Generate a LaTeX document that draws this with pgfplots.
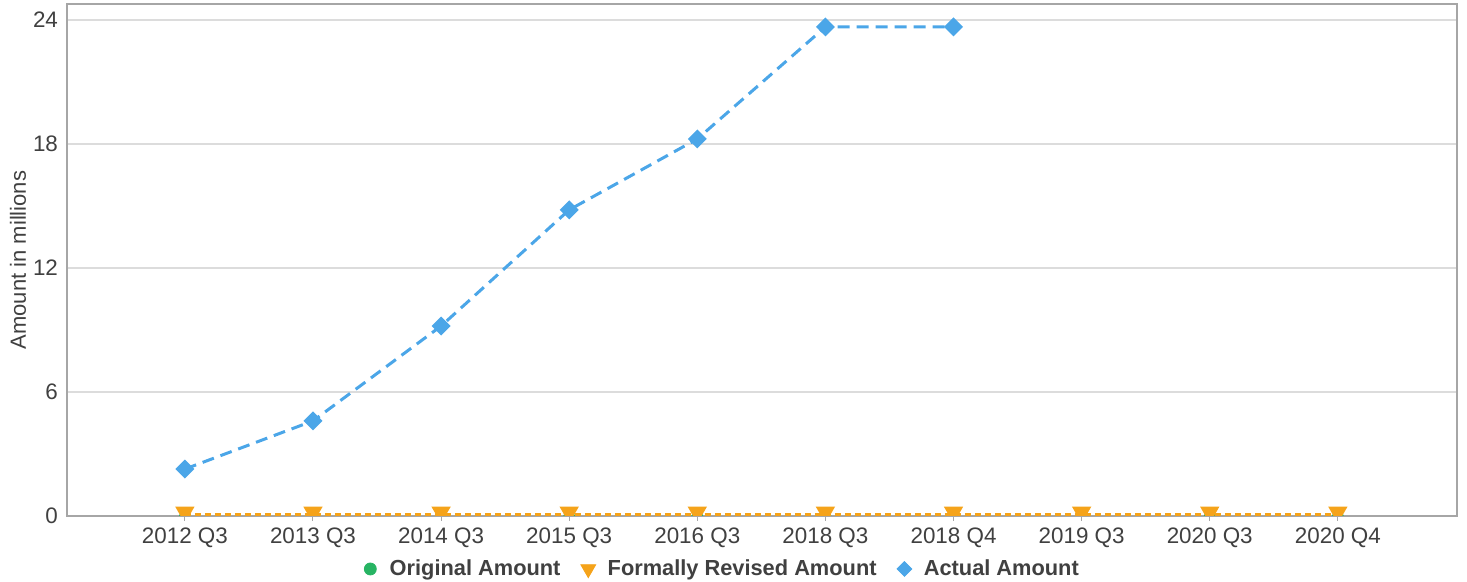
\documentclass[border=0pt]{standalone}
\usepackage{pgfplots}
\pgfplotsset{compat=1.18}
\usepackage{fontspec}
\setmainfont{Liberation Sans}
\definecolor{cblue}{HTML}{4BA6E8}
\definecolor{corange}{HTML}{F5A31A}
\definecolor{cgreen}{HTML}{27B463}
\definecolor{ctext}{HTML}{404040}
\definecolor{cgrid}{HTML}{DCDCDC}
\definecolor{caxis}{HTML}{A6A6A6}
\begin{document}
\begin{tikzpicture}[x=1pt,y=1pt]
\useasboundingbox (0,0) rectangle (733.5,291);
\begin{axis}[
  at={(33.5pt,33pt)}, anchor=south west,
  scale only axis, width=695pt, height=256pt,
  xmin=-0.92, xmax=9.93, ymin=0, ymax=24.77,
  ytick={0,6,12,18,24},
  xtick={0,...,9},
  xticklabels={2012 Q3,2013 Q3,2014 Q3,2015 Q3,2016 Q3,2018 Q3,2018 Q4,2019 Q3,2020 Q3,2020 Q4},
  /pgf/number format/assume math mode=true,
  clip marker paths=true,
  ymajorgrids, grid style={cgrid, line width=0.6pt},
  axis line style={caxis, line width=0.7pt},
  ytick style={draw=none},
  xtick style={draw=caxis, line width=0.5pt},
  xtick pos=bottom, xtick align=outside, major tick length=2.5pt,
  tick label style={font=\fontsize{11.2}{13}\selectfont, text=ctext},
  yticklabel style={xshift=-1pt},
  xticklabel style={yshift=0pt},
  ylabel={Amount in millions},
  every axis y label/.style={at={(axis description cs:-0.0353,0.5)}, rotate=90, anchor=center, font=\fontsize{11}{13}\selectfont, text=ctext},
  legend style={at={(axis description cs:0.4715,-0.1035)}, anchor=center, draw=none, fill=none,
    font=\bfseries\fontsize{10.9}{13}\selectfont, text=ctext,
    legend columns=3, /tikz/every even column/.append style={column sep=7.7pt}},
  legend image code/.code={\draw[#1] plot coordinates {(0pt,0pt)}; \path (-4pt,0pt) (7.5pt,0pt);},
]
\addlegendimage{only marks, mark=*, mark size=3pt, cgreen}
\addlegendentry{Original Amount}
\addlegendimage{only marks, mark=triangle*, mark size=4.3pt, mark options={rotate=180}, corange}
\addlegendentry{Formally Revised Amount}
\addlegendimage{only marks, mark=square*, mark size=2.6pt, mark options={rotate=45}, cblue}
\addlegendentry{Actual Amount}
\addplot[cgreen, line width=1.4pt, dash pattern=on 3pt off 2pt, mark=*, mark size=2.2pt, mark options={solid}, forget plot]
  coordinates {(0,0)(1,0)(2,0)(3,0)(4,0)(5,0)(6,0)(7,0)(8,0)(9,0)};
\addplot[corange, yshift=0.7pt, line width=1.3pt, dash pattern=on 3pt off 2pt, mark=triangle*, mark size=4.3pt, mark options={solid, yshift=1.2pt, rotate=180}, forget plot]
  coordinates {(0,0)(1,0)(2,0)(3,0)(4,0)(5,0)(6,0)(7,0)(8,0)(9,0)};
\addplot[cblue, line width=1.5pt, dash pattern=on 6pt off 3.5pt, mark=square*, mark size=2.6pt, mark options={solid, rotate=45}, forget plot]
  coordinates {(0,2.27)(1,4.6)(2,9.19)(3,14.81)(4,18.24)(5,23.66)(6,23.66)};
\end{axis}
\end{tikzpicture}
\end{document}
